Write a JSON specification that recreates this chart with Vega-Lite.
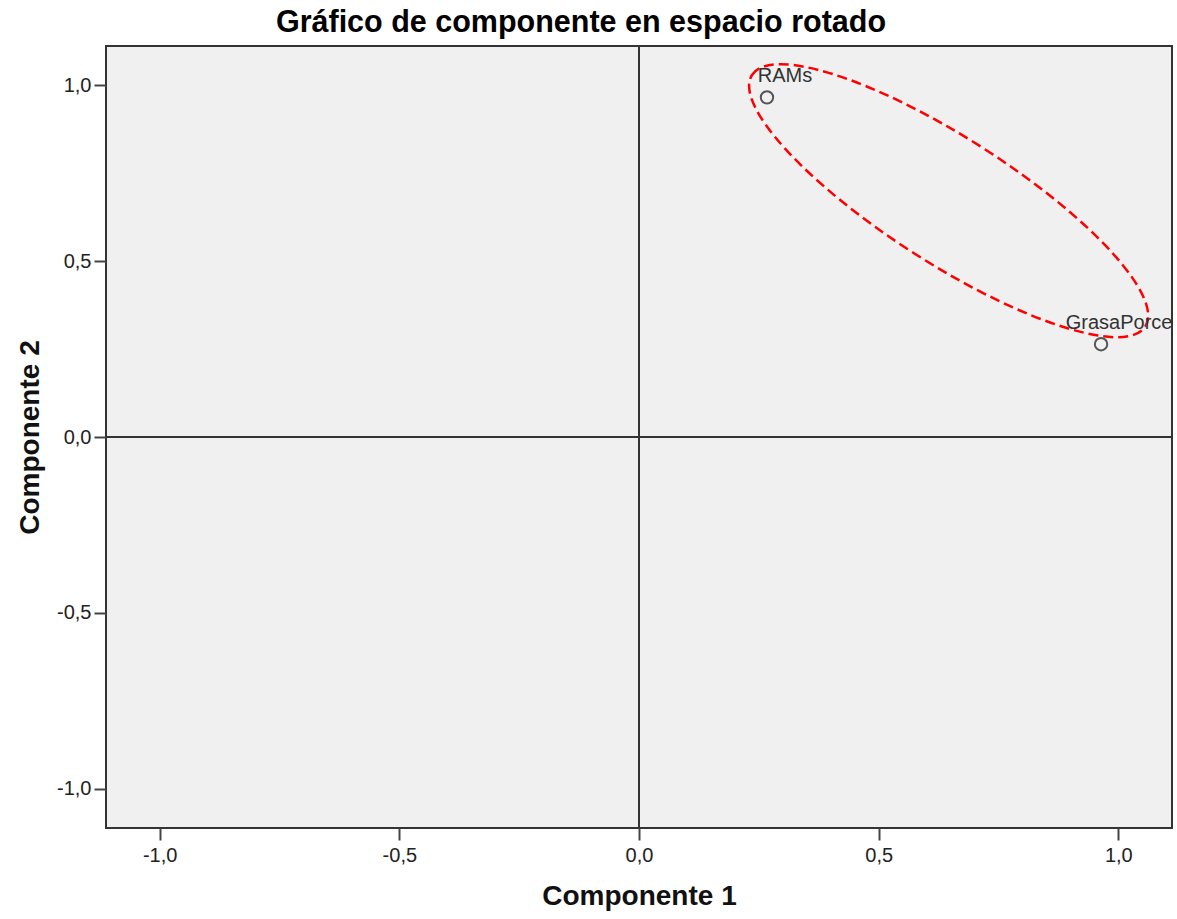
{
  "$schema": "https://vega.github.io/schema/vega-lite/v6.json",
  "width": 1066,
  "height": 782,
  "autosize": {"type": "none"},
  "padding": {"left": 106, "top": 46, "right": 5, "bottom": 91},
  "background": "white",
  "title": {
    "text": "Gráfico de componente en espacio rotado",
    "font": "Liberation Sans",
    "fontSize": 30.5,
    "fontWeight": "bold",
    "color": "#000000",
    "anchor": "middle",
    "dx": -58,
    "offset": 7
  },
  "config": {
    "view": {"fill": "#f0f0f0", "stroke": "#333333", "strokeWidth": 2},
    "axis": {
      "grid": false,
      "domain": false,
      "tickSize": 12,
      "tickWidth": 2,
      "tickColor": "#444444",
      "labelFont": "Liberation Sans",
      "labelFontSize": 20,
      "labelColor": "#222222",
      "titleFont": "Liberation Sans",
      "titleFontSize": 28,
      "titleFontWeight": "bold",
      "titleColor": "#111111"
    },
    "axisX": {"labelPadding": 5, "titlePadding": 17},
    "axisY": {"labelPadding": 3, "titlePadding": 12}
  },
  "datasets": {
    "loadings": [
      {"variable": "RAMs", "c1": 0.267, "c2": 0.966},
      {"variable": "GrasaPorce", "c1": 0.964, "c2": 0.264}
    ],
    "grupo": [
      {"c1": 0.646, "c2": 0.672}
    ]
  },
  "data": {"name": "loadings"},
  "encoding": {
    "x": {
      "field": "c1", "type": "quantitative", "title": "Componente 1",
      "scale": {"domain": [-1.112, 1.112], "nice": false, "zero": false},
      "axis": {"values": [-1, -0.5, 0, 0.5, 1], "labelExpr": "replace(replace(format(datum.value, '.1f'), '.', ','), '\u2212', '-')"}
    },
    "y": {
      "field": "c2", "type": "quantitative", "title": "Componente 2",
      "scale": {"domain": [-1.112, 1.112], "nice": false, "zero": false},
      "axis": {"values": [-1, -0.5, 0, 0.5, 1], "labelExpr": "replace(replace(format(datum.value, '.1f'), '.', ','), '\u2212', '-')"}
    }
  },
  "layer": [
    {
      "mark": {"type": "rule", "color": "#333333", "strokeWidth": 2},
      "encoding": {"x": {"datum": 0, "type": "quantitative", "title": "Componente 1"}, "y": null}
    },
    {
      "mark": {"type": "rule", "color": "#333333", "strokeWidth": 2},
      "encoding": {"y": {"datum": 0, "type": "quantitative", "title": "Componente 2"}, "x": null}
    },
    {
      "data": {"name": "grupo"},
      "mark": {
        "type": "point",
        "shape": "M-1,0C-1,-0.1488,-0.5523,-0.2695,0,-0.2695C0.5523,-0.2695,1,-0.1488,1,0C1,0.1488,0.5523,0.2695,0,0.2695C-0.5523,0.2695,-1,0.1488,-1,0Z",
        "size": 217900,
        "angle": 32.6,
        "filled": false,
        "stroke": "#ff0000",
        "strokeWidth": 2.5,
        "strokeDash": [10, 5],
        "opacity": 1
      }
    },
    {
      "mark": {"type": "point", "shape": "circle", "size": 154, "filled": false, "stroke": "#555555", "strokeWidth": 2, "opacity": 1}
    },
    {
      "mark": {"type": "text", "font": "Liberation Sans", "fontSize": 20, "color": "#333333", "dx": 18, "dy": -15, "baseline": "alphabetic", "align": "center"},
      "encoding": {"text": {"field": "variable"}}
    }
  ]
}
